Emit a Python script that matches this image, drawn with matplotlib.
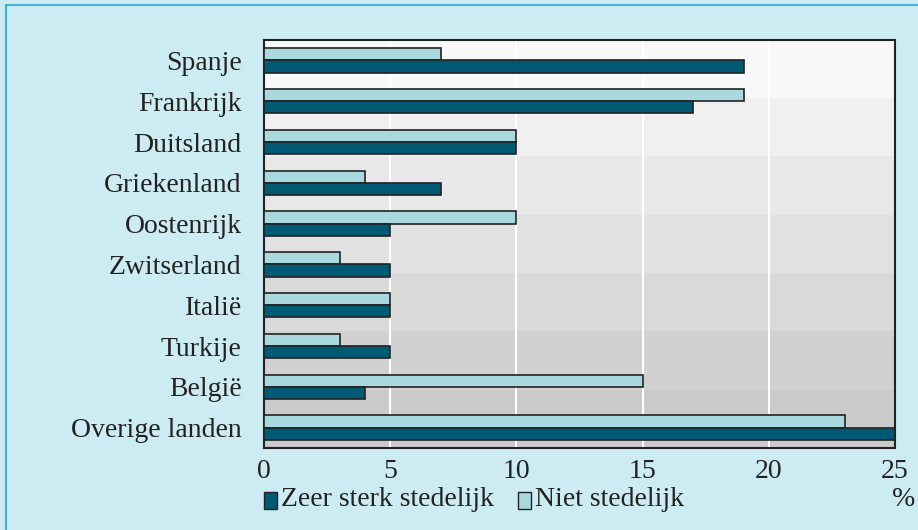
import numpy as np
import matplotlib.pyplot as plt
from matplotlib.patches import Rectangle

landen = ['Spanje', 'Frankrijk', 'Duitsland', 'Griekenland', 'Oostenrijk',
          'Zwitserland', 'Italië', 'Turkije', 'België', 'Overige landen']
zeer_sterk = [19, 17, 10, 7, 5, 5, 5, 5, 4, 25]
niet_stedelijk = [7, 19, 10, 4, 10, 3, 5, 3, 15, 23]
ticks = [0, 5, 10, 15, 20, 25]

donker = '#005a73'
licht = '#a9d8df'
fs = 20

plt.rcParams['font.family'] = ['Liberation Serif', 'DejaVu Serif']

fig = plt.figure(figsize=(9.18, 5.30), dpi=100)
fig.patch.set_facecolor('#cdebf3')
# outer frame line
fig.patches.append(Rectangle((0.007, -0.01), 1.0, 1.0, transform=fig.transFigure,
                             fill=False, edgecolor='#3fb4d6', linewidth=1.5))

ax = fig.add_axes([264 / 918, 1 - 448 / 530, (895 - 264) / 918, (448 - 40) / 530])

# stepped grey background, lighter at top
n = len(landen)
band = np.linspace(0.97, 0.79, 7).reshape(-1, 1)
ax.imshow(band, cmap='gray', vmin=0, vmax=1, aspect='auto',
          extent=[0, 25, n - 0.5, -0.5], zorder=0)

y = np.arange(n)
h = 0.3
ax.barh(y - h / 2, niet_stedelijk, height=h, color=licht, edgecolor='#222222',
        linewidth=1.2, zorder=3, label='Niet stedelijk')
ax.barh(y + h / 2, zeer_sterk, height=h, color=donker, edgecolor='#222222',
        linewidth=1.2, zorder=3, label='Zeer sterk stedelijk')

ax.set_xlim(0, 25)
ax.set_ylim(n - 0.5, -0.5)
ax.set_xticks(ticks)
ax.set_xticklabels([str(t) for t in ticks])
ax.set_yticks(y)
ax.set_yticklabels(landen)
for t in ticks[1:-1]:
    ax.axvline(t, color='white', linewidth=1.5, zorder=1)

ax.tick_params(axis='both', length=0, labelsize=fs, colors='#222222')
ax.tick_params(axis='y', pad=16)
ax.tick_params(axis='x', pad=8)
for s in ax.spines.values():
    s.set_color('#222222')
    s.set_linewidth(1.5)

# legend
fig.patches.append(Rectangle((264 / 918, 1 - 509 / 530), 13 / 918, 17 / 530,
                             transform=fig.transFigure, facecolor=donker,
                             edgecolor='#222222', linewidth=1))
fig.text(281 / 918, 1 - 500 / 530, 'Zeer sterk stedelijk', fontsize=fs,
         va='center', ha='left', color='#222222')
fig.patches.append(Rectangle((518 / 918, 1 - 509 / 530), 13 / 918, 17 / 530,
                             transform=fig.transFigure, facecolor=licht,
                             edgecolor='#222222', linewidth=1))
fig.text(535 / 918, 1 - 500 / 530, 'Niet stedelijk', fontsize=fs,
         va='center', ha='left', color='#222222')
fig.text(904 / 918, 1 - 500 / 530, '%', fontsize=fs, va='center',
         ha='center', color='#222222')

fig.savefig('out.png', dpi=100, facecolor=fig.get_facecolor())
